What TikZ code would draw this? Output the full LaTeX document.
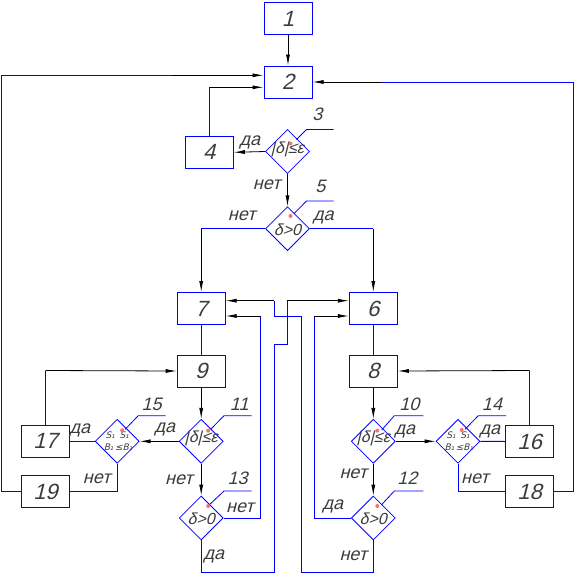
\documentclass[tikz,border=0pt]{standalone}
\usepackage{fontspec}
\setmainfont{Liberation Sans}[FakeSlant=0.25]
\newfontfamily\dvs{DejaVu Sans}[FakeSlant=0.25]
\usetikzlibrary{shapes.geometric,arrows.meta,calc}
\definecolor{cadblue}{RGB}{0,0,255}
\definecolor{txt}{RGB}{60,60,60}
\definecolor{markc}{RGB}{255,110,110}
\begin{document}
\begin{tikzpicture}[x=1pt,y=-1pt,
 box/.style={draw=cadblue, line width=1pt, minimum width=48pt, minimum height=32pt, inner sep=0pt, text=txt, font=\fontsize{22}{22}\selectfont},
 dia/.style={draw=cadblue, line width=0.8pt, diamond, minimum width=44pt, minimum height=44pt, inner sep=0pt, shape aspect=1},
 dtext/.style={text=txt, font=\fontsize{16}{16}\selectfont, inner sep=0pt},
 stext/.style={text=txt, font=\dvs\fontsize{9}{10}\selectfont, inner sep=0pt},
 lbl/.style={text=txt, font=\fontsize{18}{18}\selectfont, inner sep=0pt},
 ans/.style={text=txt, font=\fontsize{18}{18}\selectfont, inner sep=0pt},
 bl/.style={draw=cadblue, line width=1pt},
 arr/.style={draw=black, line width=0.8pt, -{Latex[length=11pt,width=4pt]}},
 lead/.style={draw=cadblue, line width=0.8pt},
 mk/.style={fill=markc},
]
\useasboundingbox (0,0) rectangle (576,574);

% boxes
\node[box] (b1) at (288,18.5) {1};
\node[box] (b2) at (288,82) {2};
\node[box] (b4) at (209.3,152.3) {4};
\node[box] (b7) at (201.2,308.5) {7};
\node[box] (b6) at (373.3,308.5) {6};
\node[box] (b9) at (201.2,371) {9};
\node[box] (b8) at (373.3,371) {8};
\node[box] (b17) at (45.5,441.3) {17};
\node[box] (b19) at (45.5,491.5) {19};
\node[box] (b16) at (529.7,441.5) {16};
\node[box] (b18) at (529.7,491.5) {18};

% diamonds
\node[dia] (d3) at (287.5,151.5) {};
\node[dia] (d5) at (287.5,228.7) {};
\node[dia] (d11) at (201.2,441.3) {};
\node[dia] (d13) at (201.2,518) {};
\node[dia] (d10) at (373.3,441.3) {};
\node[dia] (d12) at (373.3,518) {};
\node[dia] (d15) at (117.2,441.3) {};
\node[dia] (d14) at (458,441.3) {};

\node[dtext] (t3) at ($(d3)+(0,-2)$) {|δ|≤ε};
\node[dtext] (t5) at ($(d5)+(0,1)$) {δ>0};
\node[dtext] (t11) at ($(d11)+(0,-3)$) {|δ|≤ε};
\node[dtext] (t13) at ($(d13)+(0,1)$) {δ>0};
\node[dtext] (t10) at ($(d10)+(0,-3)$) {|δ|≤ε};
\node[dtext] (t12) at ($(d12)+(0,1)$) {δ>0};
\node[stext] (t15a) at ($(d15)+(-7,-6.5)$) {S₁};
\node[stext] (t15b) at ($(d15)+(7,-6.5)$) {S₁};
\node[stext] (t15c) at ($(d15)+(-8.5,5.5)$) {B₁};
\node[stext] (t15d) at ($(d15)+(6.5,5.5)$) {≤B₁};
\node[stext] (t14a) at ($(d14)+(-7,-6.5)$) {S₁};
\node[stext] (t14b) at ($(d14)+(7,-6.5)$) {S₁};
\node[stext] (t14c) at ($(d14)+(-8.5,5.5)$) {B₁};
\node[stext] (t14d) at ($(d14)+(6.5,5.5)$) {≤B₁};

% leaders and position labels
\draw[lead] ($(d3)+(9,-12)$) -- ($(d3)+(19,-22)$) -- ($(d3)+(46,-22)$);
\node[lbl] (n3) at ($(d3)+(30,-37)$) {3};
\fill[mk] ($(d3)+(3,-8)$) circle (2pt);
\draw[lead] ($(d5)+(6.5,-15)$) -- ($(d5)+(19,-27.7)$) -- ($(d5)+(46,-27.7)$);
\node[lbl] (n5) at ($(d5)+(33,-42)$) {5};
\fill[mk] ($(d5)+(3,-12.7)$) circle (2pt);
\draw[lead] ($(d11)+(9.5,-12)$) -- ($(d11)+(22.8,-25.6)$) -- ($(d11)+(50.5,-25.6)$);
\node[lbl] (n11) at ($(d11)+(38,-37)$) {11};
\fill[mk] ($(d11)+(7,-10.6)$) circle (2pt);
\draw[lead] ($(d13)+(9,-14)$) -- ($(d13)+(22.8,-27)$) -- ($(d13)+(50.5,-27)$);
\node[lbl] (n13) at ($(d13)+(36.5,-40)$) {13};
\fill[mk] ($(d13)+(7,-12)$) circle (2pt);
\draw[lead] ($(d10)+(8.4,-11.3)$) -- ($(d10)+(21,-25.6)$) -- ($(d10)+(50,-25.6)$);
\node[lbl] (n10) at ($(d10)+(36,-37)$) {10};
\fill[mk] ($(d10)+(4,-10.6)$) circle (2pt);
\draw[lead] ($(d12)+(8,-13)$) -- ($(d12)+(21,-27)$) -- ($(d12)+(50,-27)$);
\node[lbl] (n12) at ($(d12)+(34,-40)$) {12};
\fill[mk] ($(d12)+(4,-12)$) circle (2pt);
\draw[lead] ($(d14)+(7,-12)$) -- ($(d14)+(20.3,-25.6)$) -- ($(d14)+(48,-25.6)$);
\node[lbl] (n14) at ($(d14)+(34,-37)$) {14};
\fill[mk] ($(d14)+(3.7,-11.3)$) circle (2pt);
\draw[lead] ($(d15)+(8,-12)$) -- ($(d15)+(21,-25.6)$) -- ($(d15)+(48.5,-25.6)$);
\node[lbl] (n15) at ($(d15)+(34.5,-37)$) {15};
\fill[mk] ($(d15)+(5,-11)$) circle (2pt);

% answer labels
\node[ans] at (250,142.7) {да};
\node[ans] at (266.7,185) {нет};
\node[ans] at (241.7,216) {нет};
\node[ans] at (323.3,217.7) {да};
\node[ans] at (165,429.3) {да};
\node[ans] at (179,480) {нет};
\node[ans] at (240,507.3) {нет};
\node[ans] at (214,556) {да};
\node[ans] at (80,430.7) {да};
\node[ans] at (96.7,479) {нет};
\node[ans] at (405,431.7) {да};
\node[ans] at (353.3,473.5) {нет};
\node[ans] at (333,506) {да};
\node[ans] at (353.3,556) {нет};
\node[ans] at (490,431.7) {да};
\node[ans] at (475,479) {нет};

% bend coordinates
\coordinate (lA) at (1.7,491.5);
\coordinate (lB) at (1.7,75.3);
\coordinate (lC) at (172,75.3);
\coordinate (rA) at (573.3,491.5);
\coordinate (rB) at (573.3,82);
\coordinate (rC) at (381,82);
\coordinate (c4) at (209.3,87.3);
\coordinate (c5l) at (201.2,228.7);
\coordinate (c5r) at (373.3,228.7);
\coordinate (c17) at (45.5,370.5);
\coordinate (c16) at (529.7,370.5);
\coordinate (c15) at (117.2,491.5);
\coordinate (c14) at (458,491.5);
\coordinate (m1) at (260.7,518);
\coordinate (m2) at (260.7,316);
\coordinate (n1) at (201.2,572);
\coordinate (n2) at (274.3,572);
\coordinate (n3b) at (274.3,344.3);
\coordinate (n4) at (287.3,344.3);
\coordinate (n5b) at (287.3,300.7);
\coordinate (p1) at (373.3,572);
\coordinate (p2) at (301,572);
\coordinate (p3) at (301,316);
\coordinate (p4) at (274.3,316);
\coordinate (p5) at (274.3,300.7);
\coordinate (q1) at (314.3,518);
\coordinate (q2) at (314.3,316);

% connectors
\draw[arr] (b1.south) -- (b2.north);
\draw[bl] (b19.west) -- (lA) -- (lB) -- (lC);
\draw[arr] (lC) -- (lC -| b2.west);
\draw[bl] (b4.north) -- (c4);
\draw[arr] (c4) -- (c4 -| b2.west);
\draw[bl] (b18.east) -- (rA) -- (rB) -- (rC);
\draw[arr] (rC) -- (b2.east);
\draw[arr] (d3.south) -- (d5.north);
\draw[arr] (d3.west) -- (b4.east);
\draw[bl] (d5.west) -- (c5l);
\draw[arr] (c5l) -- (b7.north);
\draw[bl] (d5.east) -- (c5r);
\draw[arr] (c5r) -- (b6.north);
\draw[bl] (b7.south) -- (b9.north);
\draw[bl] (b6.south) -- (b8.north);
\draw[arr] (b9.south) -- (d11.north);
\draw[arr] (d11.south) -- (d13.north);
\draw[arr] (b8.south) -- (d10.north);
\draw[arr] (d10.south) -- (d12.north);
\draw[arr] (d11.west) -- (d15.east);
\draw[arr] (d10.east) -- (d14.west);
\draw[bl] (d15.west) -- (b17.east);
\draw[bl] (d15.south) -- (c15) -- (b19.east);
\draw[bl] (d14.east) -- (b16.west);
\draw[bl] (d14.south) -- (c14) -- (b18.west);
\draw[bl] (b17.north) -- (c17);
\draw[arr] (c17) -- (b9.west);
\draw[bl] (b16.north) -- (c16);
\draw[arr] (c16) -- (b8.east);
\draw[bl] (d13.east) -- (m1) -- (m2);
\draw[arr] (m2) -- (m2 -| b7.east);
\draw[bl] (d13.south) -- (n1) -- (n2) -- (n3b) -- (n4) -- (n5b);
\draw[arr] (n5b) -- (n5b -| b6.west);
\draw[bl] (d12.south) -- (p1) -- (p2) -- (p3) -- (p4) -- (p5);
\draw[arr] (p5) -- (p5 -| b7.east);
\draw[bl] (d12.west) -- (q1) -- (q2);
\draw[arr] (q2) -- (q2 -| b6.west);
\end{tikzpicture}
\end{document}
